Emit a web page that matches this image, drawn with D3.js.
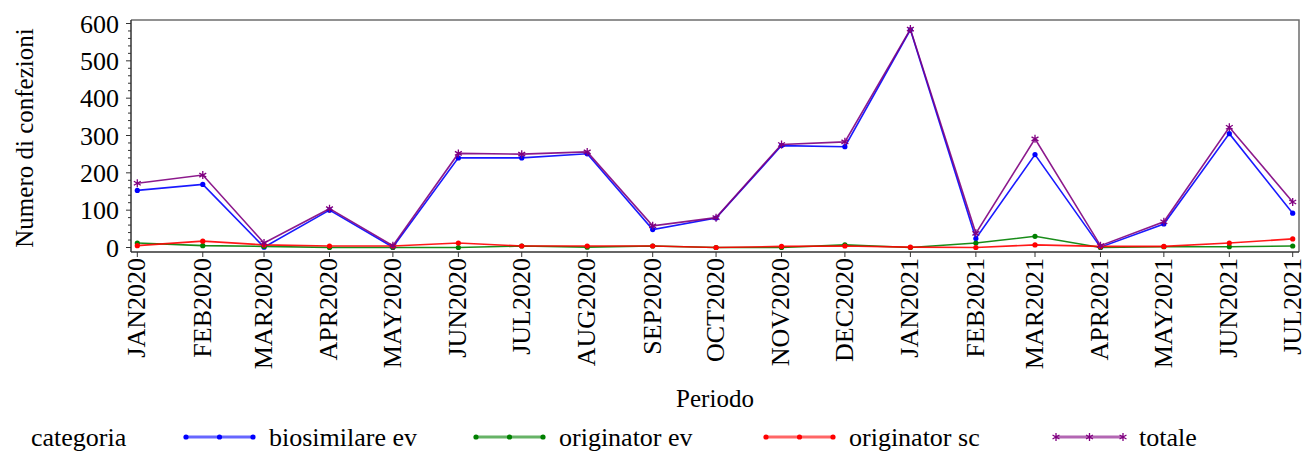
<!DOCTYPE html>
<html lang="it">
<head>
<meta charset="utf-8">
<script src="https://cdn.jsdelivr.net/npm/d3@7"></script>
<style>
  body { margin: 0; background: #fff; }
  text { font-family: "Liberation Serif", "Times New Roman", serif; fill: #000; }
</style>
</head>
<body>
<script>
// months on the x axis
var periodi = ["2020-01","2020-02","2020-03","2020-04","2020-05","2020-06","2020-07","2020-08","2020-09","2020-10",
               "2020-11","2020-12","2021-01","2021-02","2021-03","2021-04","2021-05","2021-06","2021-07"];
var tickLabels = ["JAN2020","FEB2020","MAR2020","APR2020","MAY2020","JUN2020","JUL2020","AUG2020","SEP2020","OCT2020",
                  "NOV2020","DEC2020","JAN2021","FEB2021","MAR2021","APR2021","MAY2021","JUN2021","JUL2021"];

// values per series
var biosimilareEv = [153,169,1,100,1,240,240,251,48,79,273,270,583,24,249,1,63,305,92];
var originatorEv  = [12,5,3,0,0,0,4,1,4,0,0,7,0,12,30,0,2,2,4];
var originatorSc  = [5,17,7,4,4,12,4,4,4,0,3,4,1,0,7,3,3,12,23];
var totale        = [172,194,12,104,5,252,250,256,58,80,276,283,585,38,291,5,69,322,122];

var serieNames = ["biosimilare ev","originator ev","originator sc","totale"];
var yTicks = [0,100,200,300,400,500,600];

var width = 1305, height = 453;
var parse = d3.timeParse("%Y-%m");
var dates = periodi.map(parse);

var series = [
  {name: serieNames[0], values: biosimilareEv, color: "#0000ff", marker: "dot"},
  {name: serieNames[1], values: originatorEv,  color: "#008000", marker: "dot"},
  {name: serieNames[2], values: originatorSc,  color: "#ff0000", marker: "dot"},
  {name: serieNames[3], values: totale,        color: "#800080", marker: "star"}
];

var frameL = 131, frameR = 1299, frameT = 20, frameB = 252;

var x = d3.scaleTime()
  .domain([dates[0], dates[dates.length - 1]])
  .range([137.3, 1292.7]);

var y = d3.scaleLinear()
  .domain([0, 600])
  .range([247.5, 23.5]);

var svg = d3.select("body").append("svg")
  .attr("width", width)
  .attr("height", height);

// frame (top and right)
svg.append("path")
  .attr("d", "M" + frameL + "," + frameT + "H" + frameR + "V" + frameB)
  .attr("fill", "none")
  .attr("stroke", "#6e6e6e")
  .attr("stroke-width", 1.5);

// y axis
var yAxis = svg.append("g").attr("transform", "translate(" + frameL + ",0)");
yAxis.append("line")
  .attr("x1", 0).attr("x2", 0)
  .attr("y1", frameT).attr("y2", frameB)
  .attr("stroke", "#333").attr("stroke-width", 1.5);
var minor = d3.range(0, 601, 20);
yAxis.selectAll(".minor").data(minor).enter().append("line")
  .attr("x1", function(d) { return d % 100 === 0 ? -5 : -3; })
  .attr("x2", 0)
  .attr("y1", function(d) { return y(d); })
  .attr("y2", function(d) { return y(d); })
  .attr("stroke", "#333").attr("stroke-width", 1);
yAxis.selectAll(".ylab").data(yTicks).enter().append("text")
  .attr("x", -12)
  .attr("y", function(d) { return y(d); })
  .attr("dy", "0.35em")
  .attr("text-anchor", "end")
  .attr("font-size", "26px")
  .text(function(d) { return d; });

// x axis
var xAxis = svg.append("g");
xAxis.append("line")
  .attr("x1", frameL).attr("x2", frameR)
  .attr("y1", frameB).attr("y2", frameB)
  .attr("stroke", "#333").attr("stroke-width", 1.5);
xAxis.selectAll(".xtick").data(dates).enter().append("line")
  .attr("x1", function(d) { return x(d); })
  .attr("x2", function(d) { return x(d); })
  .attr("y1", frameB).attr("y2", frameB + 5)
  .attr("stroke", "#333").attr("stroke-width", 1);
xAxis.selectAll(".xlab").data(dates).enter().append("text")
  .attr("transform", function(d) { return "translate(" + x(d) + "," + (frameB + 6) + ") rotate(-90)"; })
  .attr("dy", "0.3em")
  .attr("text-anchor", "end")
  .attr("font-size", "26px")
  .text(function(d, i) { return tickLabels[i]; });

// axis titles
svg.append("text")
  .attr("transform", "translate(33," + ((frameT + frameB) / 2 + 2) + ") rotate(-90)")
  .attr("text-anchor", "middle")
  .attr("font-size", "25px")
  .text("Numero di confezioni");

svg.append("text")
  .attr("x", (frameL + frameR) / 2)
  .attr("y", 407)
  .attr("text-anchor", "middle")
  .attr("font-size", "25px")
  .text("Periodo");

function starPath(s) {
  var d = s * 0.866, h = s * 0.5;
  return "M0," + (-s) + "V" + s +
         "M" + (-d) + "," + (-h) + "L" + d + "," + h +
         "M" + (-d) + "," + h + "L" + d + "," + (-h);
}

function drawMarker(g, m, cx, cy, color) {
  if (m === "star") {
    g.append("path")
      .attr("transform", "translate(" + cx + "," + cy + ")")
      .attr("d", starPath(4))
      .attr("stroke", color).attr("stroke-width", 1.3).attr("fill", "none");
  } else {
    g.append("circle")
      .attr("cx", cx).attr("cy", cy).attr("r", 2.6)
      .attr("fill", color);
  }
}

var line = d3.line()
  .x(function(d, i) { return x(dates[i]); })
  .y(function(d) { return y(d); });

series.forEach(function(s) {
  var g = svg.append("g");
  g.append("path")
    .attr("d", line(s.values))
    .attr("fill", "none")
    .attr("stroke", s.color)
    .attr("stroke-width", 1.6)
    .attr("stroke-opacity", 0.9);
  s.values.forEach(function(v, i) {
    drawMarker(g, s.marker, x(dates[i]), y(v), s.color);
  });
});

// legend
var legY = 437;
svg.append("text")
  .attr("x", 31).attr("y", legY + 9)
  .attr("font-size", "26px")
  .text("categoria");

var legX = [186, 476, 766, 1056];
series.forEach(function(s, i) {
  var g = svg.append("g");
  var x0 = legX[i], x1 = legX[i] + 67;
  g.append("line")
    .attr("x1", x0).attr("x2", x1)
    .attr("y1", legY).attr("y2", legY)
    .attr("stroke", s.color).attr("stroke-width", 3).attr("stroke-opacity", 0.6);
  [x0, (x0 + x1) / 2, x1].forEach(function(mx) {
    drawMarker(g, s.marker, mx, legY, s.color);
  });
  g.append("text")
    .attr("x", x1 + 16).attr("y", legY + 9)
    .attr("font-size", "26px")
    .text(s.name);
});
</script>
</body>
</html>
